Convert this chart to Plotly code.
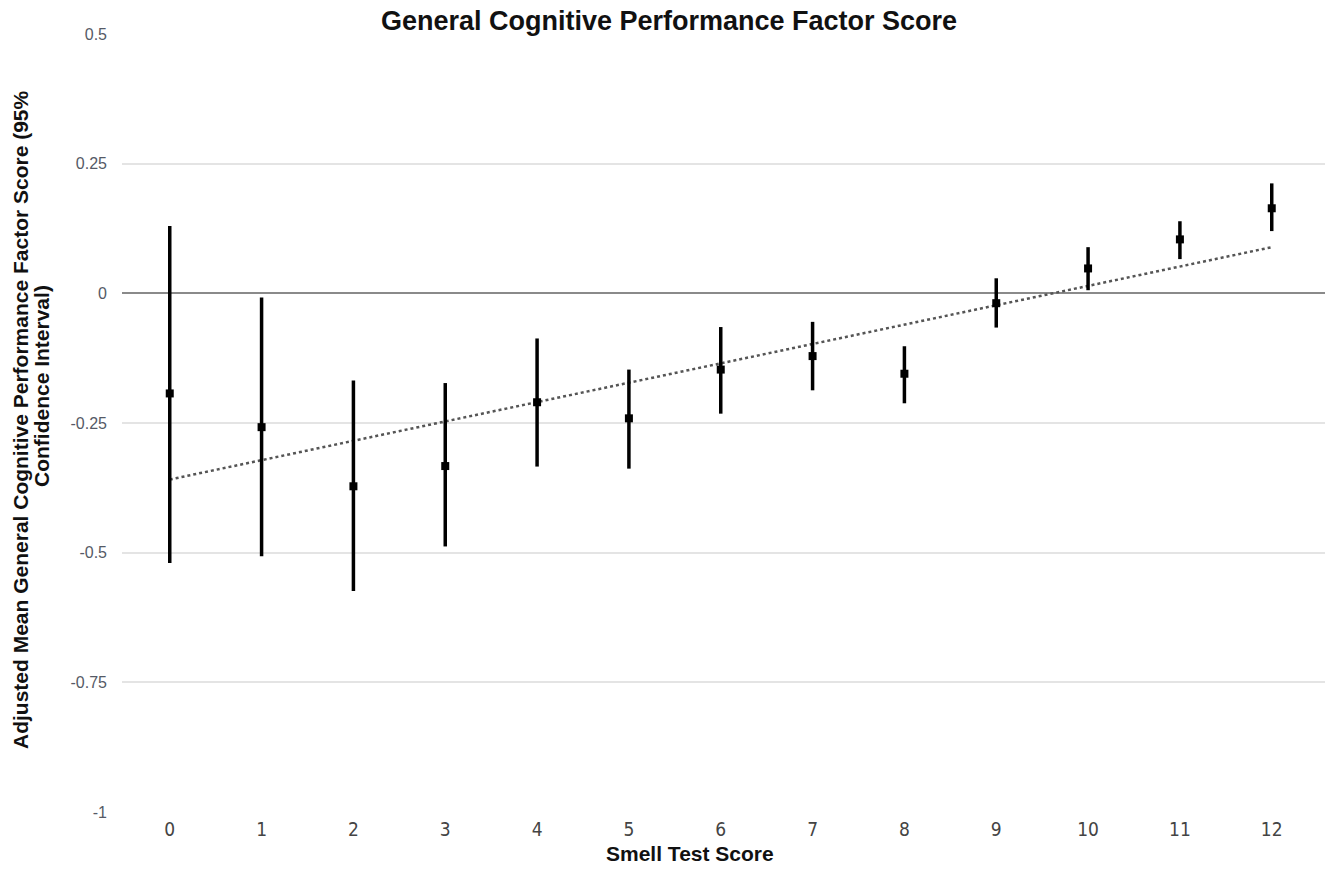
import plotly.graph_objects as go

# Data
smell_scores = [0, 1, 2, 3, 4, 5, 6, 7, 8, 9, 10, 11, 12]
means = [-0.193, -0.258, -0.372, -0.333, -0.210, -0.241, -0.147, -0.121, -0.155, -0.019, 0.048, 0.104, 0.164]
ci_upper = [0.130, -0.008, -0.168, -0.173, -0.087, -0.147, -0.065, -0.055, -0.102, 0.029, 0.089, 0.139, 0.212]
ci_lower = [-0.520, -0.507, -0.574, -0.488, -0.334, -0.338, -0.232, -0.187, -0.212, -0.066, 0.006, 0.066, 0.120]
trend_x = [0, 12]
trend_y = [-0.359, 0.089]
y_ticks = [0.5, 0.25, 0, -0.25, -0.5, -0.75, -1]
y_tick_labels = ["0.5", "0.25", "0", "-0.25", "-0.5", "-0.75", "-1"]

err_plus = [u - m for u, m in zip(ci_upper, means)]
err_minus = [m - l for m, l in zip(means, ci_lower)]

fig = go.Figure()

fig.add_trace(go.Scatter(
    x=trend_x, y=trend_y, mode="lines",
    line=dict(color="#555555", width=2.5, dash="dot"),
    showlegend=False, hoverinfo="skip",
))

fig.add_trace(go.Scatter(
    x=smell_scores, y=means, mode="markers",
    marker=dict(color="black", size=8, symbol="square"),
    error_y=dict(type="data", symmetric=False, array=err_plus, arrayminus=err_minus,
                 color="black", thickness=3.5, width=0),
    showlegend=False,
))

L, R, T, B = 122, 8, 34, 58
PW = 1333 - L - R
PH = 870 - T - B

def px_x(p):
    return (p - L) / PW

def px_y(p):
    return 1 - (p - T) / PH

bold = "Liberation Sans, Arial, sans-serif"

fig.update_layout(
    width=1333, height=870,
    paper_bgcolor="white", plot_bgcolor="white",
    margin=dict(l=L, r=R, t=T, b=B, autoexpand=False),
    title=dict(text="<b>General Cognitive Performance Factor Score</b>",
               x=669 / 1333, xanchor="center", y=1 - 21 / 870, yanchor="middle",
               font=dict(family=bold, size=27, color="#111111")),
    font=dict(family=bold),
    xaxis=dict(
        range=[-0.52, 12.58], automargin=False,
        tickmode="array", tickvals=smell_scores, ticktext=[str(s) for s in smell_scores],
        showgrid=False, zeroline=False, showline=False,
        tickfont=dict(family="Liberation Sans Narrow, DejaVu Sans Condensed, Arial Narrow, sans-serif",
                      size=19, color="#444444"),
        ticks="", ticklabelstandoff=4,
    ),
    yaxis=dict(
        range=[-1, 0.5], automargin=False,
        tickmode="array", tickvals=y_ticks, ticktext=y_tick_labels,
        showgrid=True, gridcolor="#e4e4e4", gridwidth=1.5,
        zeroline=True, zerolinecolor="#8a8a8a", zerolinewidth=2,
        showline=False, ticks="", ticklabelstandoff=14,
        tickfont=dict(family=bold, size=16, color="#555a66"),
    ),
    annotations=[
        dict(text="<b>Adjusted Mean General Cognitive Performance Factor Score (95%</b>",
             xref="paper", yref="paper", x=px_x(20), y=px_y(420),
             xanchor="center", yanchor="middle", textangle=-90, showarrow=False,
             font=dict(family=bold, size=21, color="#111111")),
        dict(text="<b>Confidence Interval)</b>",
             xref="paper", yref="paper", x=px_x(41), y=px_y(386),
             xanchor="center", yanchor="middle", textangle=-90, showarrow=False,
             font=dict(family=bold, size=21, color="#111111")),
        dict(text="<b>Smell Test Score</b>",
             xref="paper", yref="paper", x=px_x(690), y=px_y(853),
             xanchor="center", yanchor="middle", showarrow=False,
             font=dict(family=bold, size=21, color="#111111")),
    ],
)

fig.write_html("out.html", config={"displayModeBar": False},
               post_script="document.body.style.margin='0';")
